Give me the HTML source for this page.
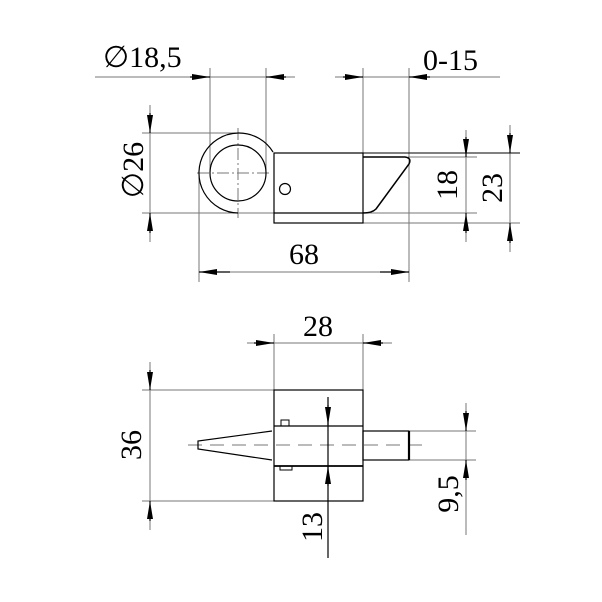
<!DOCTYPE html>
<html><head><meta charset="utf-8"><style>html,body{margin:0;padding:0;background:#fff}svg{display:block}text{font-family:"Liberation Serif","DejaVu Serif",serif;font-size:30px}</style></head>
<body>
<svg width="602" height="602" viewBox="0 0 602 602" xmlns="http://www.w3.org/2000/svg">
<rect width="602" height="602" fill="#fff"/>
<defs>
<marker id="a" viewBox="0 0 18 6" refX="18" refY="3" markerWidth="18" markerHeight="6" markerUnits="userSpaceOnUse" orient="auto"><path d="M0,0L18,3L0,6z" fill="#000"/></marker>
</defs>
<g stroke="#777" stroke-width="1" fill="none">
<line x1="95" y1="77" x2="295" y2="77"/>
<line x1="210" y1="68" x2="210" y2="173"/>
<line x1="266" y1="68" x2="266" y2="173"/>
<line x1="335" y1="77" x2="500" y2="77"/>
<line x1="363" y1="68" x2="363" y2="153"/>
<line x1="409" y1="68" x2="409" y2="282"/>
<line x1="150" y1="105" x2="150" y2="242"/>
<line x1="142" y1="133" x2="238" y2="133"/>
<line x1="142" y1="213" x2="477" y2="213"/>
<line x1="408" y1="157" x2="477" y2="157"/>
<line x1="363" y1="223" x2="520" y2="223"/>
<line x1="466" y1="130" x2="466" y2="242"/>
<line x1="510" y1="125" x2="510" y2="252"/>
<line x1="199" y1="173" x2="199" y2="282"/>
<line x1="199" y1="272" x2="409" y2="272"/>
<line x1="197" y1="173" x2="272" y2="173" stroke-dasharray="12,3,2,3"/>
<line x1="238" y1="128" x2="238" y2="218" stroke-dasharray="12,3,2,3"/>
<line x1="247" y1="343" x2="392" y2="343"/>
<line x1="274" y1="334" x2="274" y2="390"/>
<line x1="363" y1="334" x2="363" y2="390"/>
<line x1="142" y1="390" x2="274" y2="390"/>
<line x1="142" y1="501" x2="274" y2="501"/>
<line x1="150" y1="362" x2="150" y2="530"/>
<line x1="410" y1="431" x2="476" y2="431"/>
<line x1="410" y1="460" x2="476" y2="460"/>
<line x1="466" y1="403" x2="466" y2="535"/>
<line x1="188" y1="445" x2="430" y2="445" stroke-dasharray="14,8"/>
</g>
<g stroke="#000" stroke-width="1.2" fill="none">
<line x1="328" y1="397" x2="328" y2="558"/>
<line x1="190" y1="77" x2="210" y2="77" marker-end="url(#a)"/>
<line x1="286" y1="77" x2="266" y2="77" marker-end="url(#a)"/>
<line x1="343" y1="77" x2="363" y2="77" marker-end="url(#a)"/>
<line x1="430" y1="77" x2="409" y2="77" marker-end="url(#a)"/>
<line x1="150" y1="113" x2="150" y2="133" marker-end="url(#a)"/>
<line x1="150" y1="233" x2="150" y2="213" marker-end="url(#a)"/>
<line x1="466" y1="137" x2="466" y2="157" marker-end="url(#a)"/>
<line x1="466" y1="233" x2="466" y2="213" marker-end="url(#a)"/>
<line x1="510" y1="133" x2="510" y2="153" marker-end="url(#a)"/>
<line x1="510" y1="243" x2="510" y2="223" marker-end="url(#a)"/>
<line x1="230" y1="272" x2="199" y2="272" marker-end="url(#a)"/>
<line x1="380" y1="272" x2="409" y2="272" marker-end="url(#a)"/>
<line x1="254" y1="343" x2="274" y2="343" marker-end="url(#a)"/>
<line x1="383" y1="343" x2="363" y2="343" marker-end="url(#a)"/>
<line x1="150" y1="370" x2="150" y2="390" marker-end="url(#a)"/>
<line x1="150" y1="521" x2="150" y2="501" marker-end="url(#a)"/>
<line x1="328" y1="405" x2="328" y2="425" marker-end="url(#a)"/>
<line x1="328" y1="486" x2="328" y2="466" marker-end="url(#a)"/>
<line x1="466" y1="411" x2="466" y2="431" marker-end="url(#a)"/>
<line x1="466" y1="480" x2="466" y2="460" marker-end="url(#a)"/>
<path d="M273,152 A40,40 0 1,0 238,213"/>
<circle cx="238" cy="173" r="28"/>
<rect x="274" y="153" width="89" height="70"/>
<line x1="274" y1="213" x2="363" y2="213"/>
<line x1="363" y1="153" x2="520" y2="153" stroke-width="1"/>
<circle cx="285" cy="189" r="5.5"/>
<path d="M363,157 L405,157 Q412,158 409,164 L376,209 Q372,213 363,213" stroke-width="1.5"/>
<rect x="274" y="390" width="89" height="111"/>
<line x1="274" y1="426" x2="363" y2="426"/>
<line x1="274" y1="466" x2="363" y2="466" stroke-width="1.8"/>
<rect x="281" y="420" width="8" height="6" stroke-width="1"/>
<rect x="280" y="466" width="12" height="4" stroke-width="1"/>
<path d="M272,431 L198,441 L198,449 L272,460"/>
<rect x="363" y="431" width="46" height="29"/>
<line x1="409" y1="431" x2="409" y2="460" stroke-width="2.2"/>
</g>
<g fill="#000">
<text x="103" y="67">∅18,5</text>
<text x="423" y="70">0-15</text>
<text x="304" y="264" text-anchor="middle">68</text>
<text x="318" y="336" text-anchor="middle">28</text>
<text transform="translate(143,170) rotate(-90)" text-anchor="middle">∅26</text>
<text transform="translate(457,185) rotate(-90)" text-anchor="middle">18</text>
<text transform="translate(502,188) rotate(-90)" text-anchor="middle">23</text>
<text transform="translate(141,445) rotate(-90)" text-anchor="middle">36</text>
<text transform="translate(322,527) rotate(-90)" text-anchor="middle">13</text>
<text transform="translate(458,494) rotate(-90)" text-anchor="middle">9,5</text>
</g>
</svg>
</body></html>
